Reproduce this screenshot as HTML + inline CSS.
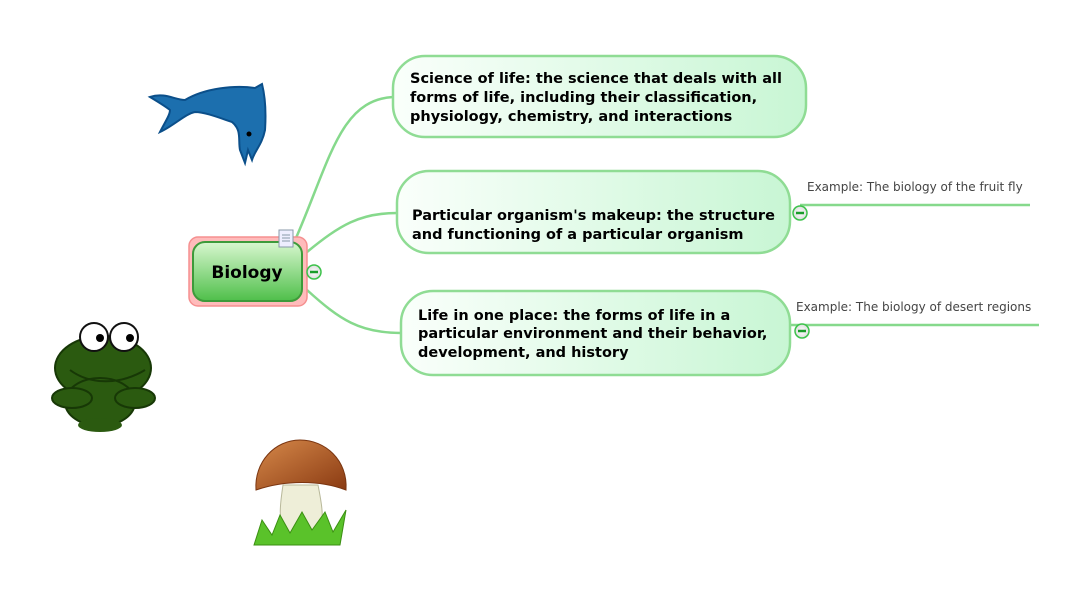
<!DOCTYPE html>
<html><head><meta charset="utf-8"><style>
html,body{margin:0;padding:0;background:#fff;width:1090px;height:590px;overflow:hidden}
svg{display:block}
text{font-family:"DejaVu Sans","Liberation Sans",sans-serif}
.b{font-weight:bold;font-size:14.5px;fill:#000}
.s{font-size:12px;fill:#444}
</style></head><body>
<svg width="1090" height="590" viewBox="0 0 1090 590" xmlns="http://www.w3.org/2000/svg">
<defs>
<linearGradient id="g1" x1="0" y1="0" x2="1" y2="0"><stop offset="0" stop-color="#fafffb"/><stop offset="1" stop-color="#c8f6d4"/></linearGradient>
<linearGradient id="gb" x1="0" y1="0" x2="0" y2="1"><stop offset="0" stop-color="#d8f7cf"/><stop offset="1" stop-color="#4fbf4a"/></linearGradient>
<linearGradient id="gm" x1="0" y1="0" x2="1" y2="1"><stop offset="0" stop-color="#d6894a"/><stop offset="1" stop-color="#8a3a12"/></linearGradient>
<radialGradient id="gc"><stop offset="0" stop-color="#fff"/><stop offset="1" stop-color="#ddd"/></radialGradient>
</defs>
<g fill="none" stroke="#86d98c" stroke-width="2.5">
<path d="M296,238 C330,160 340,100 393,97"/>
<path d="M307,252 C340,225 360,213 397,213"/>
<path d="M307,290 C340,320 360,333 401,333"/>
<path d="M800,205 L1030,205"/>
<path d="M784,325 L1039,325"/>
</g>
<rect x="393" y="56" width="413" height="81" rx="32" fill="url(#g1)" stroke="#8fdc94" stroke-width="2.5"/>
<rect x="397" y="171" width="393" height="82" rx="32" fill="url(#g1)" stroke="#8fdc94" stroke-width="2.5"/>
<rect x="401" y="291" width="389" height="84" rx="32" fill="url(#g1)" stroke="#8fdc94" stroke-width="2.5"/>
<text class="b" x="410" y="83">Science of life: the science that deals with all</text>
<text class="b" x="410" y="102">forms of life, including their classification,</text>
<text class="b" x="410" y="121">physiology, chemistry, and interactions</text>
<text class="b" x="412" y="220">Particular organism's makeup: the structure</text>
<text class="b" x="412" y="239">and functioning of a particular organism</text>
<text class="b" x="418" y="320">Life in one place: the forms of life in a</text>
<text class="b" x="418" y="338">particular environment and their behavior,</text>
<text class="b" x="418" y="357">development, and history</text>
<text class="s" x="807" y="191">Example:  The biology of the fruit fly</text>
<text class="s" x="796" y="311">Example:  The biology of desert regions</text>
<rect x="189" y="237" width="118" height="69" rx="9" fill="#fbb" stroke="#f59090" stroke-width="1.5"/>
<rect x="193" y="242" width="109" height="59" rx="12" fill="url(#gb)" stroke="#3d9a3a" stroke-width="2"/>
<text x="247" y="278" text-anchor="middle" style="font-weight:bold;font-size:17px">Biology</text>
<rect x="279" y="230" width="14" height="17" fill="#eef" stroke="#8899aa"/>
<path d="M282,235h8M282,238h8M282,241h8" stroke="#8899aa"/>
<g stroke="#3cc24a" stroke-width="1.5" fill="url(#gc)">
<circle cx="314" cy="272" r="7"/><circle cx="800" cy="213" r="7"/><circle cx="802" cy="331" r="7"/>
</g>
<g stroke="#1a9c2a" stroke-width="2.5"><path d="M310,272h8M796,213h8M798,331h8"/></g>
<!-- dolphin -->
<path d="M150,97 C165,92 175,100 185,100 C205,88 235,85 255,88 L262,84 C266,100 266,115 265,130 C262,145 255,150 252,160 L248,150 L245,163 L240,150 C238,140 242,130 232,122 C220,118 205,112 195,112 C185,114 175,125 160,132 C165,122 170,115 170,110 C165,106 155,100 150,97 Z" fill="#1c6fae" stroke="#0b4f8a" stroke-width="2"/>
<circle cx="249" cy="134" r="2.5" fill="#000"/>
<!-- frog -->
<ellipse cx="103" cy="368" rx="48" ry="32" fill="#2b5a10" stroke="#173806" stroke-width="2"/>
<ellipse cx="100" cy="402" rx="35" ry="24" fill="#2b5a10" stroke="#173806" stroke-width="2"/>
<ellipse cx="72" cy="398" rx="20" ry="10" fill="#2b5a10" stroke="#173806" stroke-width="2"/>
<ellipse cx="135" cy="398" rx="20" ry="10" fill="#2b5a10" stroke="#173806" stroke-width="2"/>
<ellipse cx="100" cy="425" rx="22" ry="7" fill="#2b5a10"/>
<circle cx="94" cy="337" r="14" fill="#fff" stroke="#111" stroke-width="2"/>
<circle cx="124" cy="337" r="14" fill="#fff" stroke="#111" stroke-width="2"/>
<circle cx="100" cy="338" r="4" fill="#000"/><circle cx="130" cy="338" r="4" fill="#000"/>
<path d="M70,370 C90,385 120,385 145,370" fill="none" stroke="#173806" stroke-width="2"/>
<!-- mushroom -->
<path d="M283,485 C280,505 278,520 285,535 L318,535 C325,520 322,505 318,485 Z" fill="#eeeed8" stroke="#b8b89a"/>
<path d="M256,490 C254,462 275,440 300,440 C325,440 348,460 346,490 C320,480 285,480 256,490 Z" fill="url(#gm)" stroke="#7a3510"/>
<path d="M254,545 L262,520 L272,535 L280,515 L290,533 L302,512 L312,530 L325,512 L333,532 L346,510 L340,545 Z" fill="#5ac22a" stroke="#3b8f12"/>
</svg>
</body></html>
